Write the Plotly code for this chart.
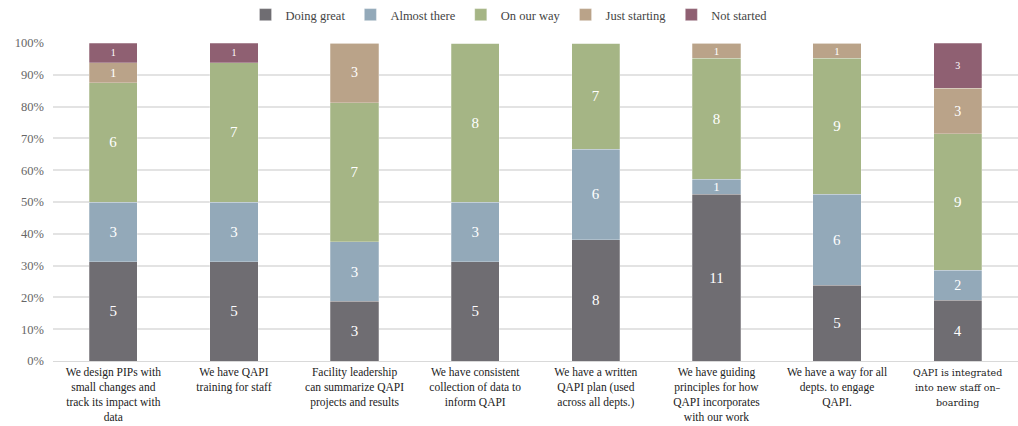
import plotly.graph_objects as go

categories = [
    "We design PIPs with<br>small changes and<br>track its impact with<br>data",
    "We have QAPI<br>training for staff",
    "Facility leadership<br>can summarize QAPI<br>projects and results",
    "We have consistent<br>collection of data to<br>inform QAPI",
    "We have a written<br>QAPI plan (used<br>across all depts.)",
    "We have guiding<br>principles for how<br>QAPI incorporates<br>with our work",
    "We have a way for all<br>depts. to engage<br>QAPI.",
    "<span style='font-family:DejaVu Serif;font-size:9.5px'>QAPI is integrated<br>into new staff on–<br>boarding</span>",
]
doing_great = [5, 5, 3, 5, 8, 11, 5, 4]
almost_there = [3, 3, 3, 3, 6, 1, 6, 2]
on_our_way = [6, 7, 7, 8, 7, 8, 9, 9]
just_starting = [1, 0, 3, 0, 0, 1, 1, 3]
not_started = [1, 1, 0, 0, 0, 0, 0, 3]

series = [
    ("Doing great", doing_great, "#6f6d72", [15] * 8),
    ("Almost there", almost_there, "#93a9b9", [15, 15, 15, 15, 15, 13, 15, 14]),
    ("On our way", on_our_way, "#a5b585", [15] * 8),
    ("Just starting", just_starting, "#baa389", [13, 13, 14, 13, 13, 11, 11, 14]),
    ("Not started", not_started, "#8f6072", [10] * 8),
]

fig = go.Figure()
xs = list(range(len(categories)))
for name, vals, color, sizes in series:
    fig.add_trace(go.Bar(
        name=name, x=xs, y=vals,
        marker=dict(color=color, line=dict(color="rgba(255,255,255,0.5)", width=0.5)),
        text=[str(v) if v else "" for v in vals],
        textposition="inside", insidetextanchor="middle", textangle=0,
        textfont=dict(color="white", size=sizes, family="Liberation Serif"),
        constraintext="none",
        hoverinfo="skip",
    ))

fig.update_layout(
    barmode="stack", barnorm="percent", bargap=0.6,
    width=1018, height=426,
    margin=dict(l=53, r=0, t=43, b=65, autoexpand=False),
    plot_bgcolor="white", paper_bgcolor="white",
    font=dict(family="Liberation Serif", color="#333333"),
    legend=dict(orientation="h", xref="container", x=0.5, xanchor="center",
                y=1.088, yanchor="middle",
                font=dict(size=12.5, color="#444444", family="Liberation Serif"),
                traceorder="normal", itemwidth=30),
    xaxis=dict(tickmode="array", tickvals=xs, ticktext=categories,
               tickfont=dict(size=11.5, color="#222222", family="Liberation Serif"),
               showgrid=False, showline=True, linecolor="#d9d9d9", ticks="",
               range=[-0.5, 7.5], automargin=False),
    yaxis=dict(range=[0, 100], dtick=10, ticksuffix="%", showgrid=True,
               gridcolor="#e3e3e3", gridwidth=1.5, zeroline=False, automargin=False,
               ticklabelstandoff=8,
               tickfont=dict(size=12.5, color="#666666", family="Liberation Serif")),
)
fig.write_html("out.html", config={"displayModeBar": False},
               post_script="document.body.style.margin='0';document.body.style.overflow='hidden';")
